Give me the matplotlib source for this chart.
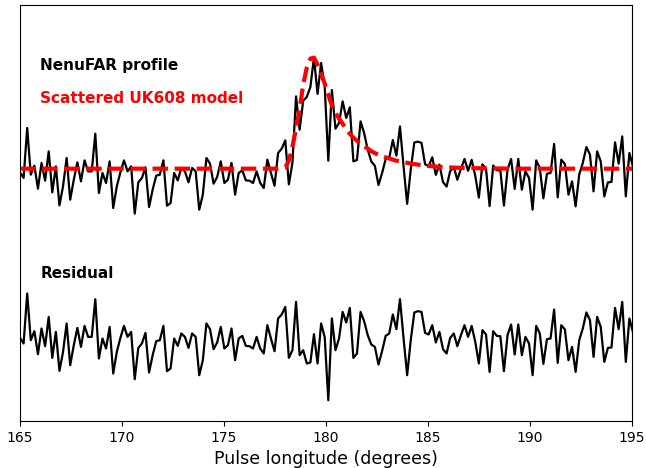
import numpy as np
import matplotlib
matplotlib.use("Agg")
import matplotlib.pyplot as plt

# pulse longitude grid: 2048 bins per rotation, first bin at 165 deg
lon0 = 165.0
dlon = 360.0 / 2048

# residual (profile - model), arbitrary flux units
resid = [
    -3.7, -9.3, 40.7, -6.0, 3.0, -20.0, 5.7, -12.0, 17.3, -23.7,
    2.3, -36.7, -17.7, 10.7, -31.0, -11.0, 6.3, -12.7, 8.3, -2.7,
    -2.7, 35.0, -24.3, -4.3, -14.3, 7.3, -39.3, -17.7, -3.7, 8.3,
    -2.7, 2.3, -45.0, -13.7, -9.3, 1.3, -38.3, -21.0, -7.0, -6.0,
    8.3, -37.0, -34.3, -4.3,
    -11.7, 0.7, -2.7, -13.7, 0.7, -2.7, -41.0, -26.0, 10.7, 5.0,
    -15.0, -8.3, 7.3, -14.3, -11.0, 5.7, -26.0, -4.3, -1.7, -11.7,
    -12.0, -14.3, -2.7, -14.3, -19.3, 9.0, -4.3, -17.0, 15.7, 19.7,
    27.3, -23.7, -16.0, 32.3, -21.0, -16.0, -29.3, -28.3, 0.0, -29.3,
    10.7, -3.0,
    -66.0, 15.7, -16.0, -4.3, 22.3, 11.7, 26.3, -23.7, -19.3, 22.3,
    13.0, -1.0, -10.3, -12.7, -30.3, -17.0, -1.7, 0.7, 19.7, 5.0,
    35.0, -4.3, -41.0, -6.0, 21.7, 23.0, 22.3, 1.3, -0.3, 9.0,
    -8.3, 2.3, -15.0, -19.3, -3.7, 0.7, -12.0, -1.0, 9.0, -2.7,
    8.3, -7.7,
    -29.3, 4.0, -0.3, -37.7, 3.0, -1.7, -2.0, -37.0, -1.0, 9.7,
    -20.3, 9.7, -21.0, -2.7, -9.3, -41.0, 8.3, 0.7, -29.7, -5.0,
    -4.3, 24.7, -28.7, 9.0, 4.7, -26.0, -12.7, -37.7, -6.0, 5.7,
    21.7, 14.0, -22.7, 17.3, 7.3, -27.7, -13.7, -13.3, 26.3, 5.0,
    32.3, -27.7, 15.7, 2.0,
]

# scattered model: zero off-pulse, these values from bin 73 onwards
model_start = 73
model_pulse = [
    0.3, 1.0, 8.0, 22.0, 40.0, 60.0, 84.0, 101.0, 110.0, 111.0,
    104.0, 95.0, 85.0, 74.0, 63.0, 56.0, 50.0, 45.0, 39.0, 35.0,
    31.0, 28.0, 25.0, 22.5, 20.0, 17.5, 15.5, 14.0, 12.5, 11.3,
    10.0, 9.0, 8.0, 7.2, 6.5, 5.8, 5.1, 4.5, 4.0, 3.5,
    3.1, 2.7, 2.4, 2.1, 1.8, 1.6, 1.4, 1.2, 1.0, 0.9,
    0.8, 0.7, 0.6, 0.5, 0.45, 0.4, 0.35, 0.3, 0.25, 0.2,
    0.15, 0.1, 0.05,
]

resid_offset = -165.5

n = len(resid)
lon = lon0 + dlon * np.arange(n)
model = np.zeros(n)
model[model_start:model_start + len(model_pulse)] = model_pulse
resid = np.array(resid)
profile = model + resid

fig = plt.figure(figsize=(6.46, 4.68), dpi=100)
ax = fig.add_axes([0.031, 0.1, 0.947, 0.889])

ax.plot(lon, profile, color='black', lw=1.6)
ax.plot(lon, model, color='red', lw=3, ls='--')
ax.plot(lon, resid + resid_offset, color='black', lw=1.6)

ax.text(0.033, 0.856, 'NenuFAR profile', transform=ax.transAxes,
        fontsize=11, fontweight='bold', color='black', va='center')
ax.text(0.033, 0.776, 'Scattered UK608 model', transform=ax.transAxes,
        fontsize=11, fontweight='bold', color='red', va='center')
ax.text(0.033, 0.356, 'Residual', transform=ax.transAxes,
        fontsize=11, fontweight='bold', color='black', va='center')

ax.set_xlim(165, 195)
ax.set_ylim(-252.5, 163.5)
ax.set_xticks([165, 170, 175, 180, 185, 190, 195])
ax.set_yticks([])
ax.set_xlabel('Pulse longitude (degrees)', fontsize=12.5)

fig.savefig('out.png', dpi=100)
